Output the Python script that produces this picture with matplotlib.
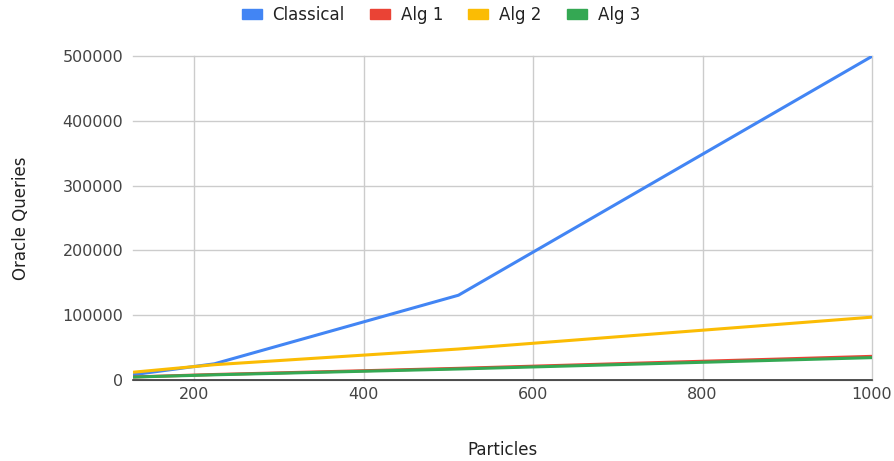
import matplotlib
matplotlib.use("Agg")
import matplotlib.pyplot as plt
from matplotlib.patches import Patch

plt.rcParams['font.family'] = ['DejaVu Sans']

particles = [128, 224, 512, 1000]
classical = [8128, 24976, 130816, 499500]
alg1 = [4700, 8500, 18000, 36500]
alg2 = [12000, 23600, 47800, 97000]
alg3 = [4500, 8000, 17000, 34500]

series = [("Classical", classical, "#4285F4"),
          ("Alg 1", alg1, "#EA4335"),
          ("Alg 2", alg2, "#FBBC04"),
          ("Alg 3", alg3, "#34A853")]

fig = plt.figure(figsize=(8.94, 4.61), dpi=100)
ax = fig.add_axes([133 / 894, 1 - 380 / 461, (872 - 133) / 894, (380 - 56) / 461])

for name, vals, col in series:
    ax.plot(particles, vals, color=col, lw=2.2, solid_capstyle='butt', zorder=3)

ax.set_xlim(128, 1000)
ax.set_ylim(0, 500000)
ax.set_xticks([200, 400, 600, 800, 1000])
ax.set_yticks([0, 100000, 200000, 300000, 400000, 500000])
ax.grid(True, color="#cccccc", lw=1)
ax.set_axisbelow(True)
for gl in ax.get_xgridlines() + ax.get_ygridlines():
    gl.set_clip_on(False)
for s in ["top", "right", "left"]:
    ax.spines[s].set_visible(False)
ax.spines["bottom"].set_color("#333333")
ax.spines["bottom"].set_linewidth(1.2)
ax.spines["bottom"].set_zorder(4)
ax.tick_params(length=0, labelsize=11.5, colors="#444444")
ax.tick_params(axis='x', pad=5)
ax.tick_params(axis='y', pad=7)
ax.set_xlabel("Particles", fontsize=12, color="#222222", labelpad=28)
ax.set_ylabel("Oracle Queries", fontsize=12, color="#222222", labelpad=23)

handles = [Patch(color=c, label=n) for n, _, c in series]
fig.legend(handles=handles, loc="center", bbox_to_anchor=(0.493, 1 - 15 / 461), ncol=4,
           frameon=False, fontsize=12, handlelength=1.2, handleheight=0.5,
           columnspacing=1.5, handletextpad=0.66, labelcolor="#222222",
           borderpad=0, borderaxespad=0)

fig.savefig("out.png", dpi=100)
